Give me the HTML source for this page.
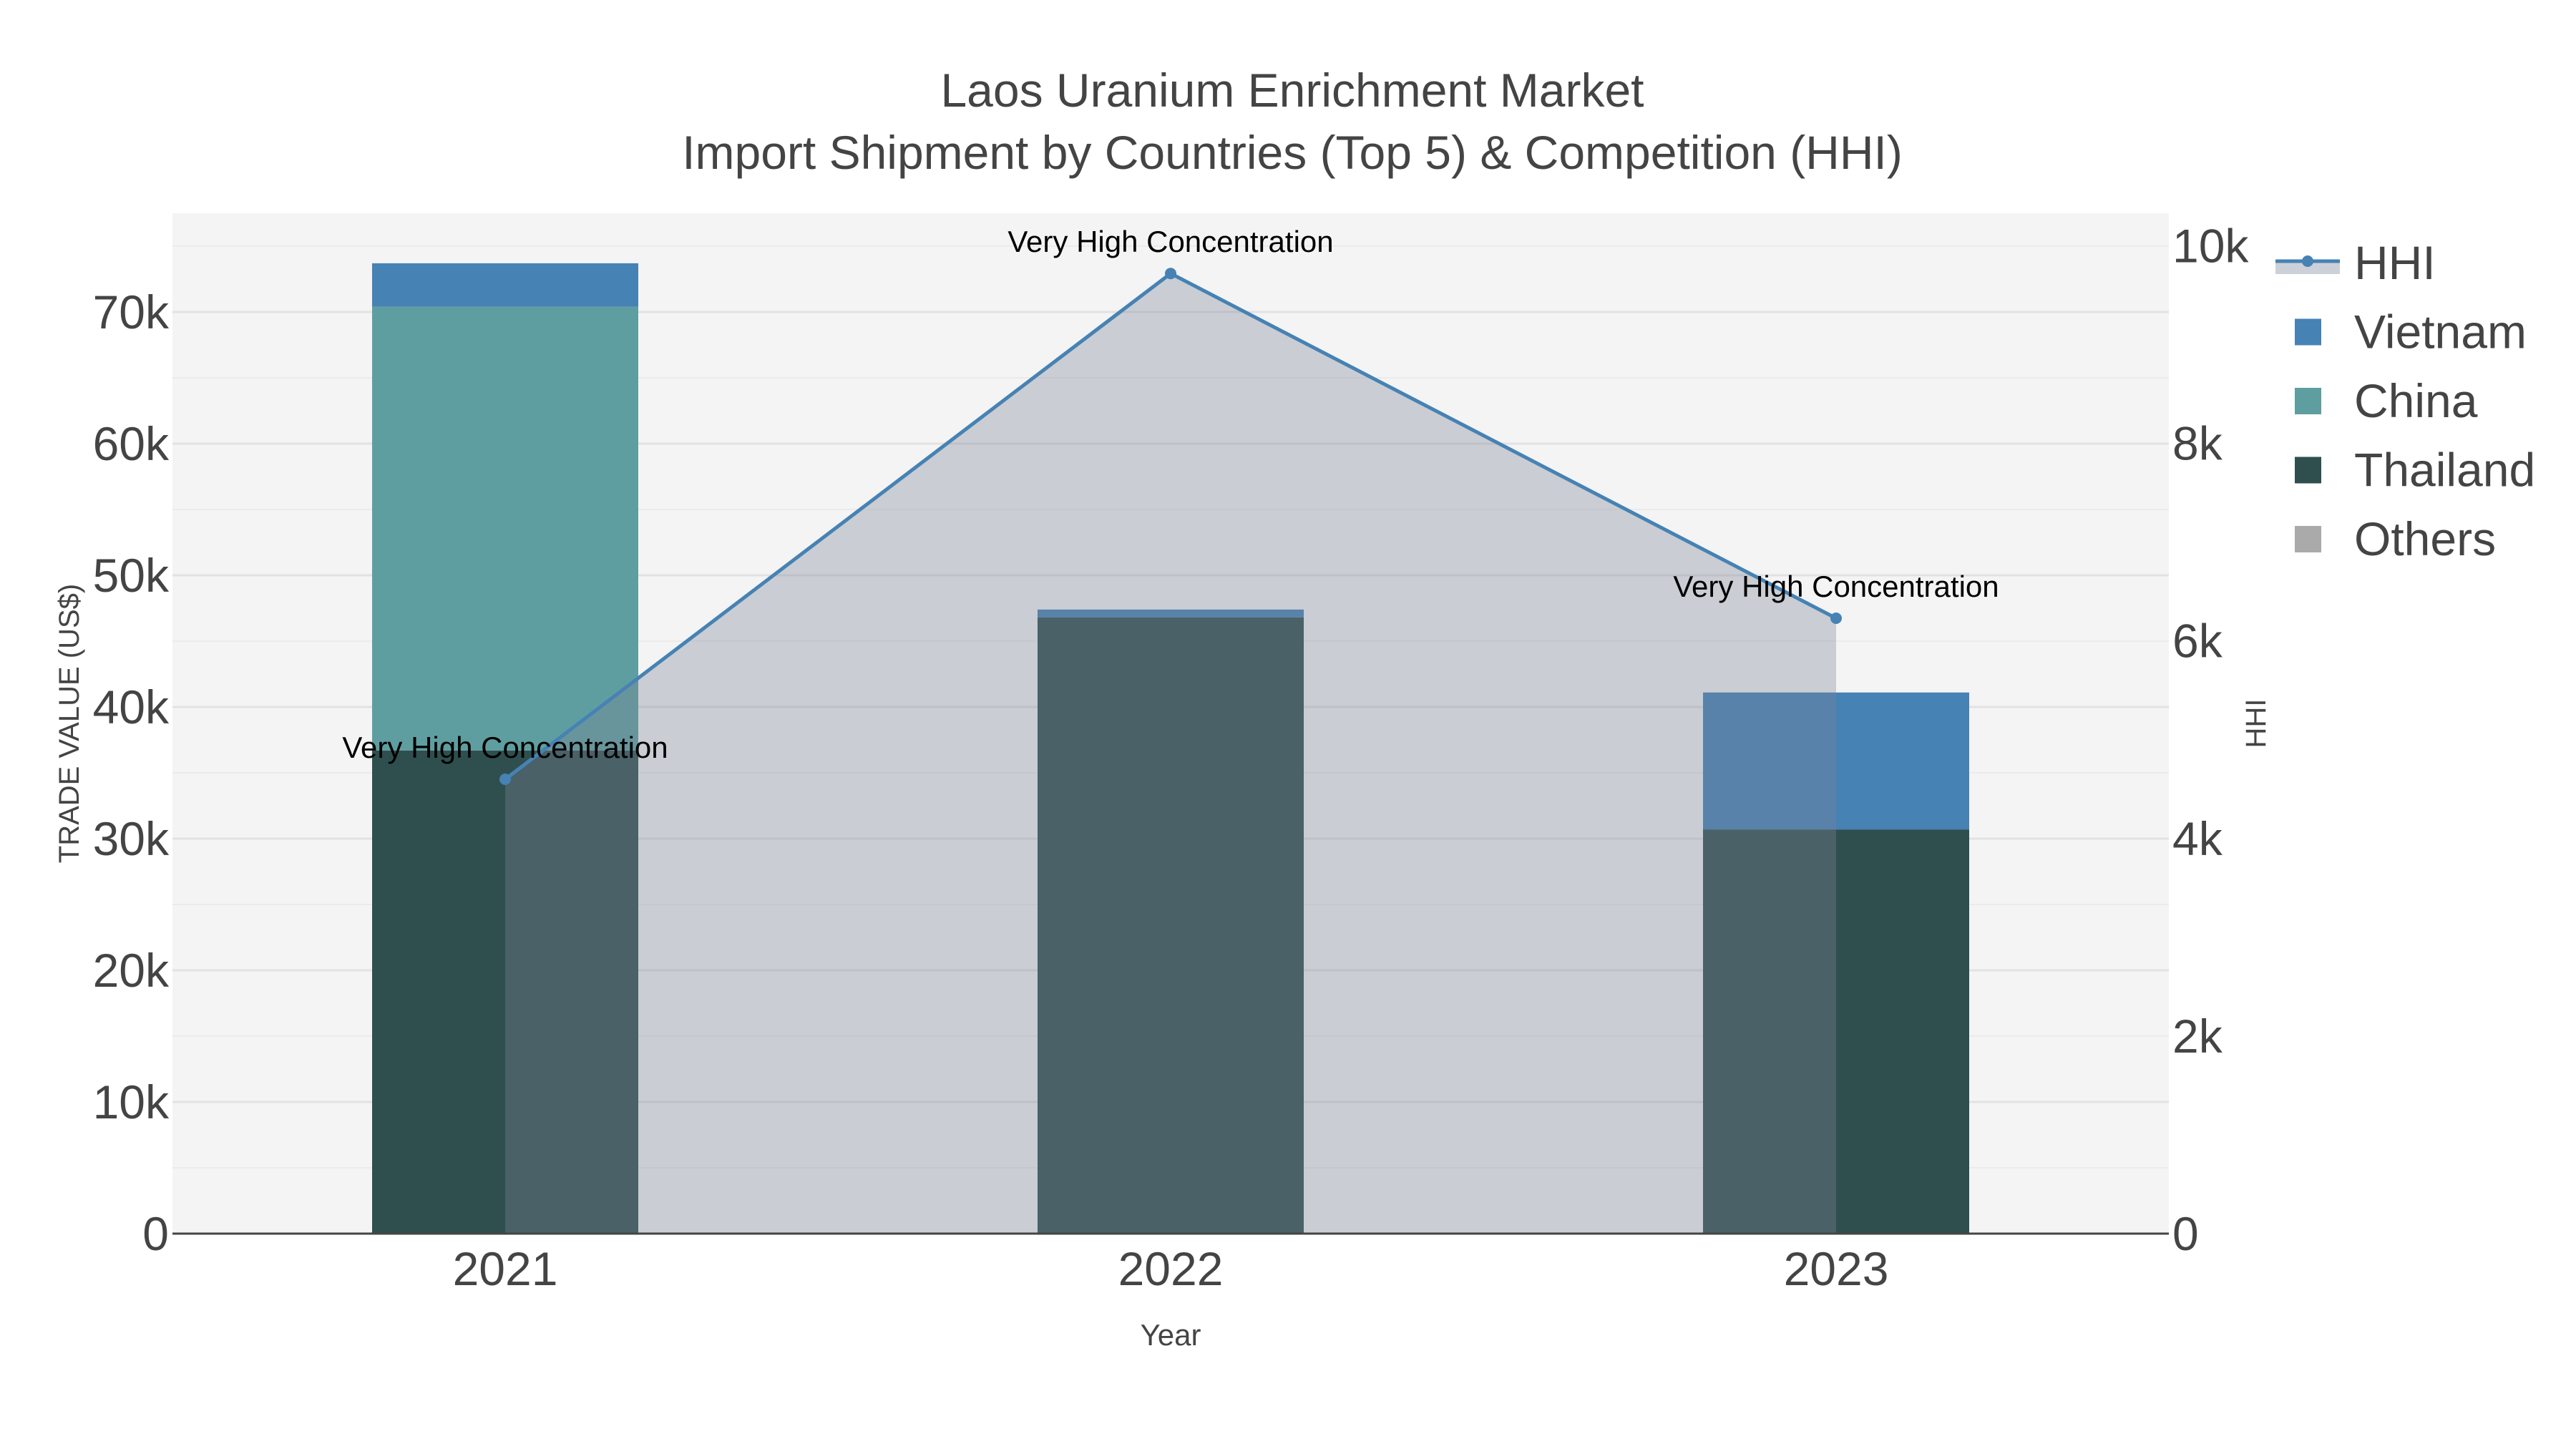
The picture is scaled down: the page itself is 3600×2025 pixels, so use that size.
<!DOCTYPE html>
<html><head><meta charset="utf-8"><style>html,body{margin:0;padding:0;background:#fff}svg{display:block;font-family:"Liberation Sans",sans-serif}</style></head>
<body>
<svg id="chart" width="3600" height="2025" viewBox="0 0 3600 2025">
<rect width="3600" height="2025" fill="#fff"/>
<text x="1806" y="149" text-anchor="middle" font-size="66" fill="#444">Laos Uranium Enrichment Market</text>
<text x="1806" y="236" text-anchor="middle" font-size="66" fill="#444">Import Shipment by Countries (Top 5) &amp; Competition (HHI)</text>
<rect x="241" y="298" width="2790" height="1426" fill="#f4f4f4"/>
<g id="grid"></g><g id="bars"></g><g id="hhi"></g><g id="axes"></g>
<text transform="translate(110,1011) rotate(-90)" text-anchor="middle" font-size="40" fill="#444">TRADE VALUE (US$)</text>
<text transform="translate(3166,1011) rotate(-90)" text-anchor="middle" font-size="40" fill="#444">HHI</text>
<text x="1636" y="1880" text-anchor="middle" font-size="42" fill="#444">Year</text>
<g id="legend"></g>
</svg>
<script>
const years=["2021","2022","2023"];
const thailand=[36700,46800,30700];
const china=[33700,0,0];
const vietnam=[3300,600,10400];
const others=[0,0,0];
const hhi=[4600,9720,6230];
const yTicks=[0,10000,20000,30000,40000,50000,60000,70000];
const yTickLabels=["0","10k","20k","30k","40k","50k","60k","70k"];
const y2Ticks=[0,2000,4000,6000,8000,10000];
const y2TickLabels=["0","2k","4k","6k","8k","10k"];
const NS="http://www.w3.org/2000/svg";
const X0=241,X1=3031,Y0=298,Y1=1724;
const yMax=77500,y2Max=10330;
const band=(X1-X0)/years.length;
const xC=i=>X0+band*(i+0.5);
const yS=v=>Y1-v/yMax*(Y1-Y0);
const y2S=v=>Y1-v/y2Max*(Y1-Y0);
function mk(tag,attrs,parent,txt){const e=document.createElementNS(NS,tag);for(const k in attrs)e.setAttribute(k,attrs[k]);if(txt!==undefined)e.textContent=txt;document.getElementById(parent).appendChild(e);return e;}
for(let v=5000;v<yMax;v+=5000){const g=mk('line',{x1:X0,x2:X1,y1:yS(v),y2:yS(v),stroke:v%10000?'#ebebeb':'#e2e2e2','stroke-width':v%10000?2:3},'grid');

}
const bw=band*0.4;
const series=[["thailand",thailand,"#2f4f4f"],["china",china,"#5f9ea0"],["vietnam",vietnam,"#4682b4"],["others",others,"#aaaaaa"]];
years.forEach((y,i)=>{let base=0;series.forEach(([n,arr,c])=>{const v=arr[i];if(v>0){const r=mk('rect',{x:xC(i)-bw/2,y:yS(base+v),width:bw,height:yS(base)-yS(base+v),fill:c},'bars');

}base+=v;});});
let pts=hhi.map((v,i)=>xC(i)+','+y2S(v)).join(' ');
const area=mk('polygon',{points:xC(0)+','+Y1+' '+pts+' '+xC(hhi.length-1)+','+Y1,fill:'rgba(123,133,150,0.35)'},'hhi');


const line=mk('polyline',{points:pts,fill:'none',stroke:'#4682b4','stroke-width':5},'hhi');


hhi.forEach((v,i)=>{const c=mk('circle',{cx:xC(i),cy:y2S(v),r:8,fill:'#4682b4'},'hhi');


const t=mk('text',{x:xC(i),y:y2S(v)-30,'text-anchor':'middle','font-size':42,fill:'#000'},'hhi','Very High Concentration');

});
const ax=mk('line',{x1:X0,x2:X1,y1:Y1,y2:Y1,stroke:'#444','stroke-width':3},'axes');


yTicks.forEach((v,i)=>{const t=mk('text',{x:236,y:yS(v)+23,'text-anchor':'end','font-size':66,fill:'#444'},'axes',yTickLabels[i]);

});
y2Ticks.forEach((v,i)=>{const t=mk('text',{x:3036,y:y2S(v)+23,'text-anchor':'start','font-size':66,fill:'#444'},'axes',y2TickLabels[i]);

});
years.forEach((y,i)=>{const t=mk('text',{x:xC(i),y:1796,'text-anchor':'middle','font-size':66,fill:'#444'},'axes',y);

});
const leg=[["HHI",null],["Vietnam","#4682b4"],["China","#5f9ea0"],["Thailand","#2f4f4f"],["Others","#aaaaaa"]];
leg.forEach(([n,c],i)=>{const cy=367+i*96.5;
if(c){const r=mk('rect',{x:3207,y:cy-18,width:37,height:37,fill:c},'legend');

}
else{const r=mk('rect',{x:3180,y:cy,width:90,height:16,fill:'#ccd0d8'},'legend');


const l=mk('line',{x1:3180,x2:3270,y1:cy-2,y2:cy-2,stroke:'#4682b4','stroke-width':5},'legend');


const ci=mk('circle',{cx:3225,cy:cy-2,r:8,fill:'#4682b4'},'legend');

}
const t=mk('text',{x:3290,y:cy+23,'font-size':66,fill:'#444'},'legend',n);

});
</script>
</body></html>
